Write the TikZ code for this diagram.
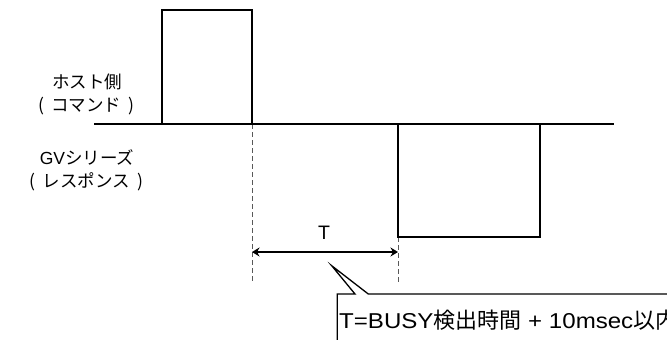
\documentclass[tikz,border=0pt]{standalone}
\usepackage{fontspec}
\setmainfont{Liberation Sans}
\newfontfamily\jpfont{Noto Sans CJK JP}
\newfontfamily\notefont[FakeStretch=1.12]{Liberation Sans}
\usetikzlibrary{arrows.meta}
\newcommand\myLP{\makebox[15bp][l]{\hspace{2bp}(}}
\newcommand\myRP{\makebox[15bp][r]{)\hspace{2bp}}}
\begin{document}
\begin{tikzpicture}[x=1bp,y=-1bp,
  wave/.style={line width=1.3bp, line join=miter},
  guide/.style={line width=1bp, black!65, dash pattern=on 5bp off 3bp},
  lbl/.style={inner sep=0pt, anchor=base, font=\jpfont\fontsize{17.5bp}{21bp}\selectfont},
  tlabel/.style={inner sep=0pt, anchor=base, font=\fontsize{19.5bp}{24bp}\selectfont},
  notetext/.style={inner sep=0pt, anchor=base west, font=\notefont\fontsize{21.5bp}{26bp}\selectfont},
  dim/.style={line width=1.3bp, {Stealth[length=7.5bp,width=9bp]}-{Stealth[length=7.5bp,width=9bp]}}]
\useasboundingbox (0,0) rectangle (667,339);
\clip (0,0) rectangle (667,339);
\fill[white] (0,0) rectangle (667,339);
% key points
\coordinate (b0) at (94,124);
\coordinate (b1) at (614,124);
\coordinate (h0) at (162,124);
\coordinate (h1) at (162,10);
\coordinate (h2) at (252,10);
\coordinate (h3) at (252,124);
\coordinate (r0) at (398,124);
\coordinate (r1) at (398,237);
\coordinate (r2) at (540,237);
\coordinate (r3) at (540,124);
\coordinate (d1) at (252,284);
\coordinate (d2) at (398,284);
\coordinate (al) at (252,252);
\coordinate (ar) at (398,252);
\coordinate (tip) at (331.7,265.7);
% guides
\draw[guide] (h3) -- (d1);
\draw[guide] (r1) -- (d2);
% waveforms
\draw[wave] (b0) -- (b1);
\draw[wave] (h0) -- (h1) -- (h2) -- (h3);
\draw[wave] (r0) -- (r1) -- (r2) -- (r3);
% dimension
\draw[dim] (al) -- (ar);
\node[tlabel] (tl) at (324,239) {T};
% labels
\node[lbl] (host1) at (87,88) {ホスト側};
\node[lbl] (host2) at (86.5,111) {\myLP コマンド\myRP};
\node[lbl] (gv1) at (87,164.5) {{\rmfamily GV}シリーズ};
\node[lbl] (gv2) at (86.5,187.5) {\myLP レスポンス\myRP};
% callout
\draw[wave, fill=white] (337.3,350) -- (337.3,294) -- (355,294) -- (tip) -- (368.3,294) -- (690,294) -- (690,350);
\node[notetext] (note) at (339,328) {T=BUSY{\jpfont\fontsize{22bp}{26bp}\selectfont 検出時間} + 10msec{\jpfont\fontsize{22bp}{26bp}\selectfont 以内}};
\end{tikzpicture}
\end{document}
